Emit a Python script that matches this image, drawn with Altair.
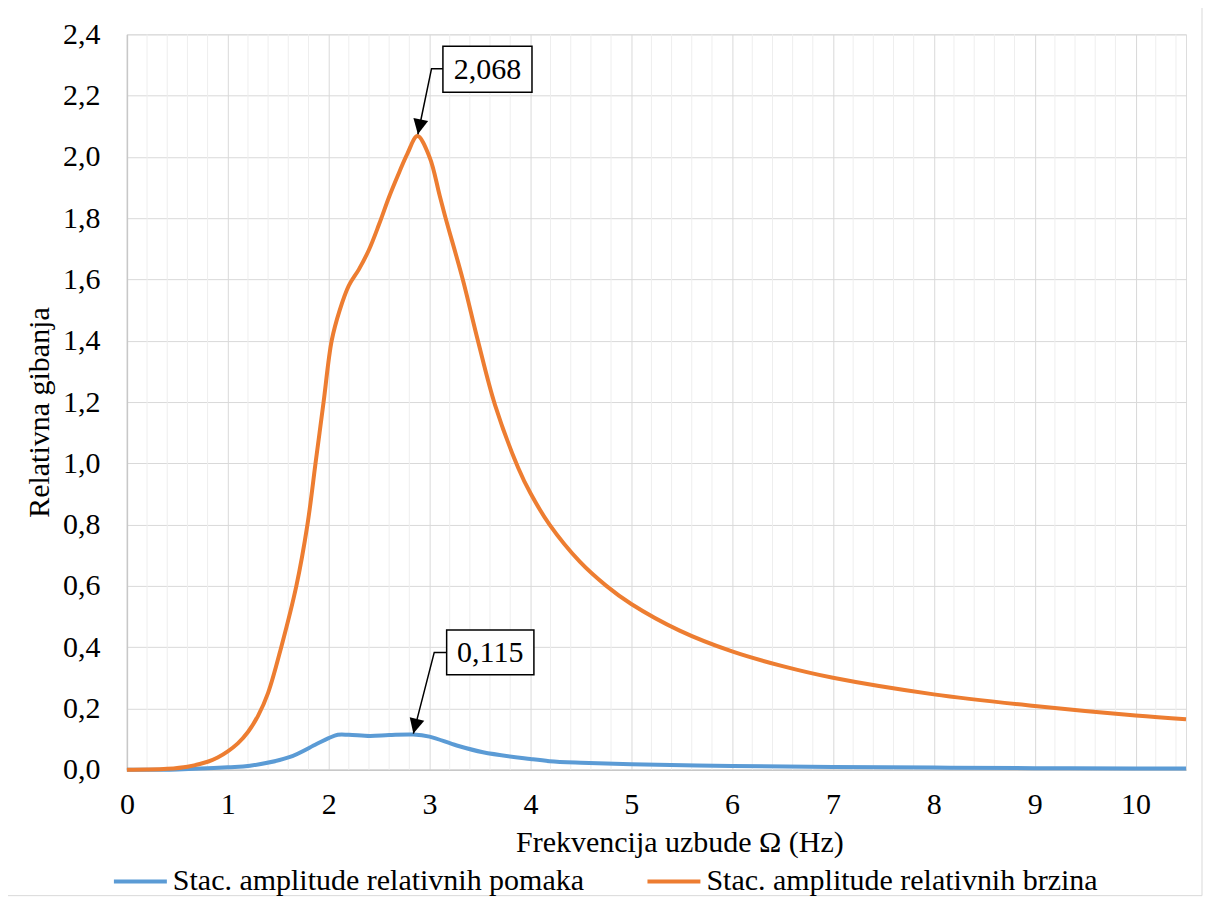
import altair as alt
import pandas as pd

# ---------------- data ----------------
x_brzina = [0, 0.2, 0.4, 0.6, 0.8, 0.9, 1.0, 1.1, 1.2, 1.3, 1.4, 1.53, 1.68, 1.79,
            1.87, 1.95, 2.03, 2.11, 2.2, 2.3, 2.4, 2.5, 2.6, 2.7, 2.78, 2.88, 3.0, 3.10,
            3.16, 3.33, 3.48, 3.65, 3.88, 4.0, 4.19, 4.49, 4.75, 5.0, 5.48, 6.0, 6.5, 7.0,
            8.0, 9.0, 10.0, 10.5]
y_brzina = [0, 0.0005, 0.003, 0.01, 0.026, 0.04, 0.06, 0.086, 0.123, 0.176, 0.251,
            0.4, 0.6, 0.8, 1.0, 1.2, 1.4, 1.5, 1.58, 1.633, 1.697, 1.78, 1.87, 1.95, 2.01,
            2.068, 2.0, 1.875, 1.8, 1.6, 1.4, 1.19, 0.985, 0.903, 0.8, 0.679, 0.601,
            0.541, 0.454, 0.386, 0.338, 0.300, 0.246, 0.208, 0.177, 0.165]

x_pomak = [0, 0.5, 1.0, 1.22, 1.61, 1.88, 2.0, 2.09, 2.2, 2.41, 2.6, 2.84, 3.0, 3.27, 3.53,
           4.0, 4.19, 4.5, 5.0, 6.0, 7.0, 8.0, 9.0, 10.0, 10.5]
y_pomak = [0, 0.001, 0.008, 0.013, 0.041, 0.084, 0.103, 0.114, 0.114, 0.110, 0.113, 0.115,
           0.108, 0.079, 0.057, 0.035, 0.028, 0.023, 0.018, 0.012, 0.009, 0.007, 0.005,
           0.004, 0.004]

series_names = ["Stac. amplitude relativnih pomaka", "Stac. amplitude relativnih brzina"]
series_colors = ["#5B9BD5", "#ED7D31"]

x_ticks = list(range(0, 11))
y_ticks = [0.0, 0.2, 0.4, 0.6, 0.8, 1.0, 1.2, 1.4, 1.6, 1.8, 2.0, 2.2, 2.4]
x_minor = [round(0.2 * i, 1) for i in range(1, 53) if i % 5 != 0]

ann_labels = ["2,068", "0,115"]
ann_box_x = [3.133, 3.17]
ann_box_x2 = [4.016, 4.035]
ann_box_y = [2.211, 0.31]
ann_box_y2 = [2.361, 0.456]
ann_corner_x = [3.02, 3.047]
ann_corner_y = [2.288, 0.383]
ann_tip_x = [2.885, 2.84]
ann_tip_y = [2.074, 0.118]
ann_angle = [11, 14]

FONT = "Liberation Serif"
FS = 30

# ---------------- tables ----------------
lines_df = pd.concat([
    pd.DataFrame({"x": x_pomak, "y": y_pomak, "s": series_names[0]}),
    pd.DataFrame({"x": x_brzina, "y": y_brzina, "s": series_names[1]}),
])
minor_df = pd.DataFrame({"x": x_minor})
box_df = pd.DataFrame({
    "x": ann_box_x, "x2": ann_box_x2, "y": ann_box_y, "y2": ann_box_y2,
    "cx": [(a + b) / 2 for a, b in zip(ann_box_x, ann_box_x2)],
    "cy": [(a + b) / 2 for a, b in zip(ann_box_y, ann_box_y2)],
    "t": ann_labels,
})
lead_rows = []
for i in range(len(ann_labels)):
    lead_rows.append({"g": i, "o": 0, "x": ann_box_x[i], "y": ann_corner_y[i]})
    lead_rows.append({"g": i, "o": 1, "x": ann_corner_x[i], "y": ann_corner_y[i]})
    lead_rows.append({"g": i, "o": 2, "x": ann_tip_x[i], "y": ann_tip_y[i]})
lead_df = pd.DataFrame(lead_rows)
tip_df = pd.DataFrame({"x": ann_tip_x, "y": ann_tip_y, "a": ann_angle})

W, H = 1060, 736

xscale = alt.Scale(domain=[0, 10.5], nice=False, zero=False)
yscale = alt.Scale(domain=[0, 2.4], nice=False)

xaxis = alt.Axis(values=x_ticks, title="Frekvencija uzbude Ω (Hz)", grid=True,
                 gridColor="#D9D9D9", gridWidth=1, ticks=False, domainColor="#C8C8C8",
                 domainWidth=1.5, labelFont=FONT, labelFontSize=FS, labelColor="black",
                 labelPadding=20, labelFlush=False, titleFont=FONT, titleFontSize=FS,
                 titleFontWeight="normal", titleColor="black", titlePadding=8,
                 titleX=553, format="d")
yaxis = alt.Axis(values=y_ticks, title="Relativna gibanja", grid=True, gridColor="#D9D9D9",
                 gridWidth=1, ticks=False, domainColor="#C8C8C8", domainWidth=1.5,
                 labelFont=FONT, labelFontSize=FS, labelColor="black", labelPadding=27,
                 labelFlush=False,
                 labelExpr="replace(format(datum.value, '.1f'), '.', ',')",
                 titleFont=FONT, titleFontSize=FS, titleFontWeight="normal",
                 titleColor="black", titlePadding=8, titleY=378)

minor = alt.Chart(minor_df).mark_rule(color="#EEEEEE", strokeWidth=1).encode(
    x=alt.X("x:Q", scale=xscale, axis=xaxis)
)

lines = alt.Chart(lines_df).mark_line(strokeWidth=4, interpolate="catmull-rom").encode(
    x=alt.X("x:Q", scale=xscale, axis=xaxis),
    y=alt.Y("y:Q", scale=yscale, axis=yaxis),
    color=alt.Color("s:N", scale=alt.Scale(domain=series_names, range=series_colors),
                    legend=alt.Legend(orient="none", legendX=-15, legendY=819,
                                      direction="horizontal", title=None,
                                      symbolType="stroke", symbolSize=2809,
                                      symbolStrokeWidth=4, labelFont=FONT,
                                      labelFontSize=FS, labelColor="black",
                                      labelLimit=1000, labelOffset=4,
                                      columnPadding=55)),
)

leaders = alt.Chart(lead_df).mark_line(color="black", strokeWidth=1.5).encode(
    x="x:Q", y="y:Q", detail="g:N", order="o:Q"
)

heads = alt.Chart(tip_df).mark_point(
    shape="M0,0L-0.5,-1L0.5,-1Z", filled=True, color="black", opacity=1, size=900,
    strokeWidth=0
).encode(x="x:Q", y="y:Q", angle=alt.Angle("a:Q", scale=None))

boxes = alt.Chart(box_df).mark_rect(fill="white", stroke="black", strokeWidth=1.5).encode(
    x="x:Q", x2="x2:Q", y="y:Q", y2="y2:Q"
)
texts = alt.Chart(box_df).mark_text(font=FONT, fontSize=FS, color="black", align="center",
                                    baseline="middle", dy=1).encode(
    x="cx:Q", y="cy:Q", text="t:N"
)

frame = alt.Chart(alt.Data(values=[{"k": 1}])).mark_rect(
    fillOpacity=0, stroke="#D9D9D9", strokeWidth=1
).encode(x=alt.value(-120), x2=alt.value(1076), y=alt.value(-27), y2=alt.value(862))

chart = alt.layer(minor, lines, leaders, heads, boxes, texts, frame).properties(
    width=W, height=H,
    autosize=alt.AutoSizeParams(type="none"),
    padding={"left": 119, "top": 26, "right": 18, "bottom": 127},
).configure_view(stroke=None).configure(background="white")

chart.save("out.html", embed_options={"renderer": "svg", "actions": False})
